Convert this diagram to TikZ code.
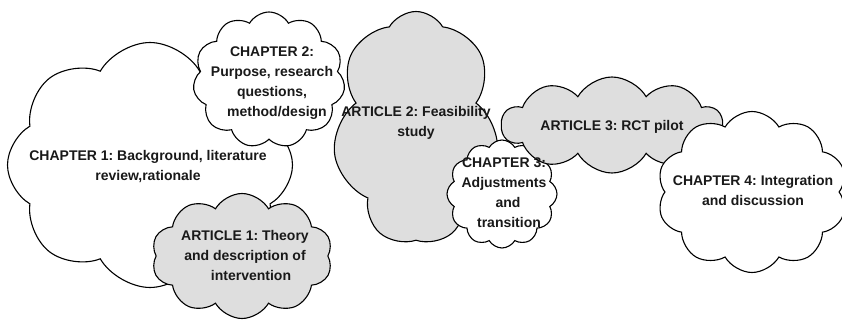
\documentclass[tikz,border=0pt]{standalone}
\usepackage{fontspec}
\setmainfont{Liberation Sans}
\usetikzlibrary{shapes.symbols}
\definecolor{cloudgrey}{RGB}{222,222,222}
\begin{document}
\frenchspacing
\begin{tikzpicture}[x=1pt,y=-1pt,
  cloudbase/.style={cloud, draw=black, line width=1.1pt, cloud ignores aspect, inner sep=0pt, outer sep=0pt},
  whitecloud/.style={cloudbase, fill=white},
  greycloud/.style={cloudbase, fill=cloudgrey},
  lbl/.style={font=\fontsize{14}{20}\selectfont\bfseries, align=center, text=black!90, inner sep=0pt}]
\useasboundingbox (0,0) rectangle (842,320);
% clouds
\node[whitecloud, cloud puffs=8, cloud puff arc=120, minimum width=285pt, minimum height=245pt] (c1) at (150,165) {};
\node[greycloud, cloud puffs=10, cloud puff arc=120, minimum width=181pt, minimum height=125pt] (a1) at (242,256) {};
\node[whitecloud, cloud puffs=11, cloud puff arc=120, minimum width=152pt, minimum height=136pt] (c2) at (269,80) {};
\node[greycloud, cloud puffs=7, cloud puff arc=120, minimum width=167pt, minimum height=233pt] (a2) at (416,128) {};
\node[whitecloud, cloud puffs=12, cloud puff arc=120, minimum width=110pt, minimum height=108pt] (c3) at (502,194) {};
\node[greycloud, cloud puffs=10, cloud puff arc=120, minimum width=221pt, minimum height=96pt] (a3) at (612,125) {};
\node[whitecloud, cloud puffs=10, cloud puff arc=120, minimum width=190pt, minimum height=161pt] (c4) at (752,192) {};
% labels
\node[lbl] (t1) at (148,167) {CHAPTER 1: Background, literature\\review,rationale};
\node[lbl] (t2) at (272,83) {CHAPTER 2:\\Purpose, research\\questions,\\\hspace*{10pt}method/design};
\node[lbl] (t3) at (245,255) {ARTICLE 1: Theory\\and description of\\\hspace*{12pt}intervention};
\node[lbl] (t4) at (416,123) {ARTICLE 2: Feasibility\\study};
\node[lbl] (t5) at (504,193) {CHAPTER 3:\\Adjustments\\\hspace*{8pt}and\\\hspace*{10pt}transition};
\node[lbl] (t6) at (612,127) {ARTICLE 3: RCT pilot};
\node[lbl] (t7) at (753,190) {CHAPTER 4: Integration\\and discussion};
\end{tikzpicture}
\end{document}
